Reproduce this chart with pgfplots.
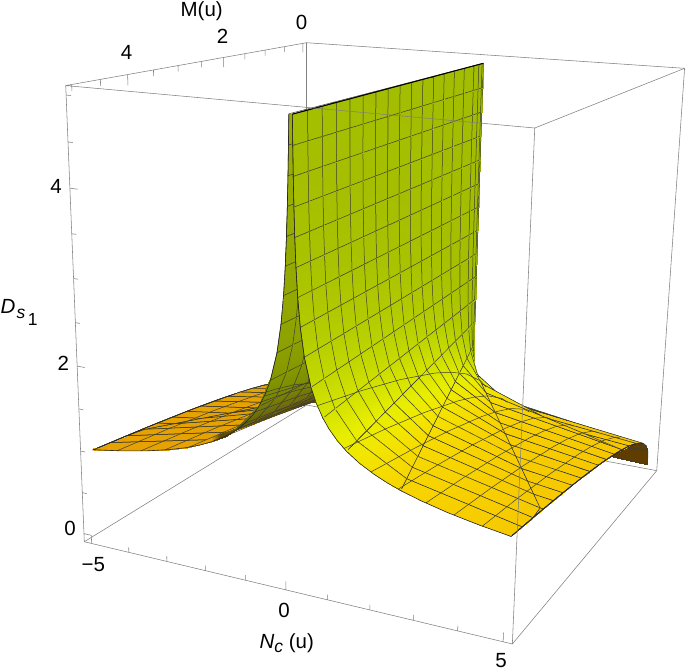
\documentclass[border=0pt]{standalone}
\usepackage{fontspec}
\setmainfont{Liberation Sans}
\usepackage{pgfplots}
\usepackage{pgfplotstable}
\pgfplotsset{compat=1.18}
\definecolor{meshc}{RGB}{62,62,50}
\pgfplotsset{
  /pgf/declare function={
    wq(\a,\b,\c)=1-0.0864*\a-0.2114*\b-0.06*\c;
    xq(\a,\b,\c)=(306.7+293.3*\a-240.22*\b-18.6*\c)/wq(\a,\b,\c)+3.5*\a*\c;
    yq(\a,\b,\c)=670-((405+25*\a+22.2*\b-364.86*\c)/wq(\a,\b,\c)-8*\a*\c);
    aN(\n)=(\n+5.2)/10.4;
    bM(\m)=(\m+0.1)/5.2;
    cD(\d)=(\d+0.1)/5.2;
  },
  table/proj/.style={
    x expr={xq(aN(#1*\thisrow{N}),bM(\thisrow{M}),cD(\thisrow{D}))},
    y expr={yq(aN(#1*\thisrow{N}),bM(\thisrow{M}),cD(\thisrow{D}))},
    z expr={-wq(aN(#1*\thisrow{N}),bM(\thisrow{M}),cD(\thisrow{D}))},
  },
  colormap={rightwing}{rgb255=(95,60,0) rgb255=(243,190,0) rgb255=(246,200,0) rgb255=(247,208,0) rgb255=(246,218,0) rgb255=(242,230,0) rgb255=(232,238,0) rgb255=(218,230,0) rgb255=(205,222,0) rgb255=(190,213,0) rgb255=(176,201,0) rgb255=(162,188,0)},
  colormap={leftwing}{rgb255=(230,162,0) rgb255=(92,72,0) rgb255=(98,83,5) rgb255=(104,94,10) rgb255=(110,105,15) rgb255=(116,118,10) rgb255=(121,131,5) rgb255=(127,144,0) rgb255=(134,152,0) rgb255=(140,160,0) rgb255=(147,168,0) rgb255=(154,176,0)},
  rmeta/.style={point meta={ifthenelse(\thisrow{M}<0.3,ifthenelse(\thisrow{D}<0.9,-0.1,1),(\thisrow{D}/(3*(\thisrow{N}+0.01)))/(\thisrow{D}/(3*(\thisrow{N}+0.01))+0.5))}},
  lmeta/.style={point meta={ifthenelse(1.2-1.07*\thisrow{D}/(\thisrow{N}+0.01)-\thisrow{D}/(\thisrow{M}+0.01)>0,-0.1,(-(1.2-1.07*\thisrow{D}/(\thisrow{N}+0.01)-\thisrow{D}/(\thisrow{M}+0.01)))/(-(1.2-1.07*\thisrow{D}/(\thisrow{N}+0.01)-\thisrow{D}/(\thisrow{M}+0.01))+2))}},
}
\pgfplotstableread{
N M D
0.4777 5 2.2075
0.4777 5 2.1875
0.6 5 2.071
0.6 5 2.027
0.7585 5 1.895
0.7585 5 1.875
0.9 5 1.815
0.9 5 1.771
1.1 5 1.702
1.1 5 1.657
1.3105 5 1.5825
1.3105 5 1.5625
1.6 5 1.51
1.6 5 1.462
1.95 5 1.422
1.95 5 1.369
2.25 5 1.348
2.25 5 1.305
2.56 5 1.27
2.56 5 1.25
3 5 1.225
3 5 1.186
3.6 5 1.163
3.6 5 1.116
4.3 5 1.092
4.3 5 1.052
5 5 1.02
5 5 1
}\sliver
\pgfplotstableread{
N M D
0 0 5
0.0003 0.04 5
0.0012 0.15 5
0.0025 0.3125 5
0.005 0.625 5
0.0075 0.9375 5
0.01 1.25 5
0.0125 1.5625 5
0.015 1.875 5
0.0175 2.1875 5
0.02 2.5 5
0.0225 2.8125 5
0.025 3.125 5
0.0275 3.4375 5
0.03 3.75 5
0.0325 4.0625 5
0.035 4.375 5
0.0375 4.6875 5
0.04 5 5
0 0 4.6875
0.0004 0.04 4.6875
0.0015 0.15 4.6875
0.003 0.3125 4.6875
0.0061 0.625 4.6875
0.0091 0.9375 4.6875
0.0121 1.25 4.6875
0.0152 1.5625 4.6875
0.0182 1.875 4.6875
0.0212 2.1875 4.6875
0.0243 2.5 4.6875
0.0273 2.8125 4.6875
0.0303 3.125 4.6875
0.0334 3.4375 4.6875
0.0364 3.75 4.6875
0.0394 4.0625 4.6875
0.0425 4.375 4.6875
0.0455 4.6875 4.6875
0.0486 5 4.6875
0 0 4.375
0.0005 0.04 4.375
0.0018 0.15 4.375
0.0037 0.3125 4.375
0.0075 0.625 4.375
0.0112 0.9375 4.375
0.0149 1.25 4.375
0.0187 1.5625 4.375
0.0224 1.875 4.375
0.0261 2.1875 4.375
0.0299 2.5 4.375
0.0336 2.8125 4.375
0.0373 3.125 4.375
0.041 3.4375 4.375
0.0448 3.75 4.375
0.0485 4.0625 4.375
0.0522 4.375 4.375
0.056 4.6875 4.375
0.0597 5 4.375
0 0 4.0625
0.0006 0.04 4.0625
0.0022 0.15 4.0625
0.0047 0.3125 4.0625
0.0093 0.625 4.0625
0.014 0.9375 4.0625
0.0186 1.25 4.0625
0.0233 1.5625 4.0625
0.028 1.875 4.0625
0.0326 2.1875 4.0625
0.0373 2.5 4.0625
0.0419 2.8125 4.0625
0.0466 3.125 4.0625
0.0513 3.4375 4.0625
0.0559 3.75 4.0625
0.0606 4.0625 4.0625
0.0652 4.375 4.0625
0.0699 4.6875 4.0625
0.0746 5 4.0625
0 0 3.75
0.0008 0.04 3.75
0.0028 0.15 3.75
0.0059 0.3125 3.75
0.0119 0.625 3.75
0.0178 0.9375 3.75
0.0237 1.25 3.75
0.0296 1.5625 3.75
0.0356 1.875 3.75
0.0415 2.1875 3.75
0.0474 2.5 3.75
0.0533 2.8125 3.75
0.0593 3.125 3.75
0.0652 3.4375 3.75
0.0711 3.75 3.75
0.077 4.0625 3.75
0.083 4.375 3.75
0.0889 4.6875 3.75
0.0948 5 3.75
0 0 3.4375
0.001 0.04 3.4375
0.0037 0.15 3.4375
0.0077 0.3125 3.4375
0.0154 0.625 3.4375
0.0231 0.9375 3.4375
0.0308 1.25 3.4375
0.0385 1.5625 3.4375
0.0462 1.875 3.4375
0.0539 2.1875 3.4375
0.0616 2.5 3.4375
0.0692 2.8125 3.4375
0.0769 3.125 3.4375
0.0846 3.4375 3.4375
0.0923 3.75 3.4375
0.1 4.0625 3.4375
0.1077 4.375 3.4375
0.1154 4.6875 3.4375
0.1231 5 3.4375
0 0 3.125
0.0013 0.04 3.125
0.0049 0.15 3.125
0.0102 0.3125 3.125
0.0205 0.625 3.125
0.0307 0.9375 3.125
0.041 1.25 3.125
0.0512 1.5625 3.125
0.0614 1.875 3.125
0.0717 2.1875 3.125
0.0819 2.5 3.125
0.0922 2.8125 3.125
0.1024 3.125 3.125
0.1126 3.4375 3.125
0.1229 3.75 3.125
0.1331 4.0625 3.125
0.1434 4.375 3.125
0.1536 4.6875 3.125
0.1639 5 3.125
0 0 2.8125
0.0018 0.04 2.8125
0.0067 0.15 2.8125
0.014 0.3125 2.8125
0.0281 0.625 2.8125
0.0421 0.9375 2.8125
0.0562 1.25 2.8125
0.0702 1.5625 2.8125
0.0843 1.875 2.8125
0.0983 2.1875 2.8125
0.1124 2.5 2.8125
0.1264 2.8125 2.8125
0.1405 3.125 2.8125
0.1545 3.4375 2.8125
0.1686 3.75 2.8125
0.1826 4.0625 2.8125
0.1967 4.375 2.8125
0.2107 4.6875 2.8125
0.2248 5 2.8125
0 0 2.5
0.0026 0.04 2.5
0.0096 0.15 2.5
0.02 0.3125 2.5
0.04 0.625 2.5
0.06 0.9375 2.5
0.08 1.25 2.5
0.1 1.5625 2.5
0.12 1.875 2.5
0.14 2.1875 2.5
0.16 2.5 2.5
0.18 2.8125 2.5
0.2 3.125 2.5
0.22 3.4375 2.5
0.24 3.75 2.5
0.26 4.0625 2.5
0.28 4.375 2.5
0.3 4.6875 2.5
0.32 5 2.5
0 0 2.1875
0.0038 0.04 2.1875
0.0143 0.15 2.1875
0.0299 0.3125 2.1875
0.0597 0.625 2.1875
0.0896 0.9375 2.1875
0.1194 1.25 2.1875
0.1493 1.5625 2.1875
0.1791 1.875 2.1875
0.209 2.1875 2.1875
0.2389 2.5 2.1875
0.2687 2.8125 2.1875
0.2986 3.125 2.1875
0.3284 3.4375 2.1875
0.3583 3.75 2.1875
0.3881 4.0625 2.1875
0.418 4.375 2.1875
0.4478 4.6875 2.1875
0.4777 5 2.1875
0 0 1.875
0.0061 0.04 1.875
0.0228 0.15 1.875
0.0474 0.3125 1.875
0.0948 0.625 1.875
0.1422 0.9375 1.875
0.1896 1.25 1.875
0.237 1.5625 1.875
0.2844 1.875 1.875
0.3318 2.1875 1.875
0.3793 2.5 1.875
0.4267 2.8125 1.875
0.4741 3.125 1.875
0.5215 3.4375 1.875
0.5689 3.75 1.875
0.6163 4.0625 1.875
0.6637 4.375 1.875
0.7111 4.6875 1.875
0.7585 5 1.875
0 0 1.5625
0.0105 0.04 1.5625
0.0393 0.15 1.5625
0.0819 0.3125 1.5625
0.1638 0.625 1.5625
0.2457 0.9375 1.5625
0.3276 1.25 1.5625
0.4095 1.5625 1.5625
0.4914 1.875 1.5625
0.5733 2.1875 1.5625
0.6553 2.5 1.5625
0.7372 2.8125 1.5625
0.8191 3.125 1.5625
0.901 3.4375 1.5625
0.9829 3.75 1.5625
1.0648 4.0625 1.5625
1.1467 4.375 1.5625
1.2286 4.6875 1.5625
1.3105 5 1.5625
0 0 1.25
0.0205 0.04 1.25
0.0768 0.15 1.25
0.16 0.3125 1.25
0.32 0.625 1.25
0.48 0.9375 1.25
0.64 1.25 1.25
0.8 1.5625 1.25
0.96 1.875 1.25
1.12 2.1875 1.25
1.28 2.5 1.25
1.44 2.8125 1.25
1.6 3.125 1.25
1.76 3.4375 1.25
1.92 3.75 1.25
2.08 4.0625 1.25
2.24 4.375 1.25
2.4 4.6875 1.25
2.56 5 1.25
0 0 0.9375
0.0485 0.04 0.9375
0.182 0.15 0.9375
0.3793 0.3125 0.9375
0.7585 0.625 0.9375
1.1378 0.9375 0.9375
1.517 1.25 0.9375
1.8963 1.5625 0.9375
2.2755 1.875 0.9375
2.6548 2.1875 0.9375
3.034 2.5 0.9375
3.4133 2.8125 0.9375
3.7925 3.125 0.9375
4.1718 3.4375 0.9375
4.551 3.75 0.9375
4.9303 4.0625 0.9375
5 4.375 0.9565
5 4.6875 0.9787
5 5 1
0 0 0.625
0.1638 0.04 0.625
0.6144 0.15 0.625
1.28 0.3125 0.625
2.56 0.625 0.625
3.84 0.9375 0.625
5 1.25 0.63
5 1.5625 0.6786
5 1.875 0.7211
5 2.1875 0.7591
5 2.5 0.7937
5 2.8125 0.8255
5 3.125 0.855
5 3.4375 0.8826
5 3.75 0.9086
5 4.0625 0.9331
5 4.375 0.9565
5 4.6875 0.9787
5 5 1
0 0 0.3125
1.311 0.04 0.3125
4.915 0.15 0.3125
5 0.3125 0.3969
5 0.625 0.5
5 0.9375 0.5724
5 1.25 0.63
5 1.5625 0.6786
5 1.875 0.7211
5 2.1875 0.7591
5 2.5 0.7937
5 2.8125 0.8255
5 3.125 0.855
5 3.4375 0.8826
5 3.75 0.9086
5 4.0625 0.9331
5 4.375 0.9565
5 4.6875 0.9787
5 5 1
0 0 0.2
5 0.04 0.2
5 0.15 0.3107
5 0.3125 0.3969
5 0.625 0.5
5 0.9375 0.5724
5 1.25 0.63
5 1.5625 0.6786
5 1.875 0.7211
5 2.1875 0.7591
5 2.5 0.7937
5 2.8125 0.8255
5 3.125 0.855
5 3.4375 0.8826
5 3.75 0.9086
5 4.0625 0.9331
5 4.375 0.9565
5 4.6875 0.9787
5 5 1
0 0 0.1
5 0.04 0.2
5 0.15 0.3107
5 0.3125 0.3969
5 0.625 0.5
5 0.9375 0.5724
5 1.25 0.63
5 1.5625 0.6786
5 1.875 0.7211
5 2.1875 0.7591
5 2.5 0.7937
5 2.8125 0.8255
5 3.125 0.855
5 3.4375 0.8826
5 3.75 0.9086
5 4.0625 0.9331
5 4.375 0.9565
5 4.6875 0.9787
5 5 1
5 0 0
5 0.04 0.2
5 0.15 0.3107
5 0.3125 0.3969
5 0.625 0.5
5 0.9375 0.5724
5 1.25 0.63
5 1.5625 0.6786
5 1.875 0.7211
5 2.1875 0.7591
5 2.5 0.7937
5 2.8125 0.8255
5 3.125 0.855
5 3.4375 0.8826
5 3.75 0.9086
5 4.0625 0.9331
5 4.375 0.9565
5 4.6875 0.9787
5 5 1
}\surfdata
\begin{document}
\begin{tikzpicture}
\path[use as bounding box] (0,0) rectangle (685pt,670pt);
\begin{axis}[
  width=685pt,height=670pt,scale only axis,hide axis,view={0}{90},
  xmin=0,xmax=685,ymin=0,ymax=670,clip=false,
  point meta min=-0.1,point meta max=1,
]
% back edges of the box
\addplot3[no marks,empty line=jump,color=black!50,line width=0.55pt] table[proj=1] {
N M D
-5.2 -0.1 -0.1
-5.2 5.1 -0.1

-5.2 -0.1 -0.1
5.2 -0.1 -0.1

-5.2 -0.1 -0.1
-5.2 -0.1 5.1

5.2 -0.1 -0.1
5.2 -0.1 5.1

-5.2 -0.1 5.1
5.2 -0.1 5.1
};
% left wing
\addplot3[surf,shader=faceted interp,z buffer=sort,colormap name=leftwing,mesh/rows=19,mesh/cols=19,faceted color=meshc,line width=0.5pt,lmeta]
  table[proj=-1] {\surfdata};
\addplot3[surf,shader=interp,colormap name=leftwing,mesh/rows=14,mesh/cols=2,lmeta]
  table[proj=-1] {\sliver};
\addplot3[no marks,empty line=jump,color=meshc,line width=0.5pt] table[proj=-1] {
N M D
0.625 0.3 0.783
0.625 0.5 0.928
0.625 1 1.17
0.625 1.5 1.339
0.625 2 1.474
0.625 3 1.687
0.625 4 1.857
0.625 5 2

1.25 0.3 0.621
1.25 0.5 0.737
1.25 1 0.928
1.25 1.5 1.063
1.25 2 1.17
1.25 3 1.339
1.25 4 1.474
1.25 5 1.587

1.875 0.3 0.543
1.875 0.5 0.644
1.875 1 0.811
1.875 1.5 0.928
1.875 2 1.022
1.875 3 1.17
1.875 4 1.287
1.875 5 1.387

2.5 0.3 0.493
2.5 0.5 0.585
2.5 1 0.737
2.5 1.5 0.843
2.5 2 0.928
2.5 3 1.063
2.5 4 1.17
2.5 5 1.26

3.125 0.3 0.458
3.125 0.5 0.543
3.125 1 0.684
3.125 1.5 0.783
3.125 2 0.862
3.125 3 0.986
3.125 4 1.086
3.125 5 1.17

3.75 0.3 0.431
3.75 0.5 0.511
3.75 1 0.644
3.75 1.5 0.737
3.75 2 0.811
3.75 3 0.928
3.75 4 1.022
3.75 5 1.101

4.375 0.3 0.409
4.375 0.5 0.485
4.375 1 0.611
4.375 1.5 0.7
4.375 2 0.77
4.375 3 0.882
4.375 4 0.971
4.375 5 1.045
};
\addplot3[no marks,color=black!85,line width=0.6pt] table[proj=-1] {
N M D
0.04 5 5
0.0486 5 4.6875
0.0597 5 4.375
0.0746 5 4.0625
0.0948 5 3.75
0.1231 5 3.4375
0.1639 5 3.125
0.2248 5 2.8125
0.32 5 2.5
0.4777 5 2.1875
0.6 5 2.027
0.7585 5 1.875
0.9 5 1.771
1.1 5 1.657
1.3105 5 1.5625
1.6 5 1.462
1.95 5 1.369
2.25 5 1.305
2.56 5 1.25
3 5 1.186
3.6 5 1.116
4.3 5 1.052
5 5 1
5 4 0.928
5 3 0.843
5 2 0.737
};
% right wing
\addplot3[surf,shader=faceted interp,z buffer=sort,colormap name=rightwing,mesh/rows=19,mesh/cols=19,faceted color=meshc,line width=0.5pt,rmeta]
  table[proj=1] {\surfdata};
\addplot3[surf,shader=interp,colormap name=rightwing,mesh/rows=14,mesh/cols=2,rmeta]
  table[proj=1] {\sliver};
% constant N mesh lines, right wing
\addplot3[no marks,empty line=jump,color=meshc,line width=0.5pt] table[proj=1] {
N M D
0.625 0.3 0.783
0.625 0.5 0.928
0.625 1 1.17
0.625 1.5 1.339
0.625 2 1.474
0.625 3 1.687
0.625 4 1.857
0.625 5 2

1.25 0.3 0.621
1.25 0.5 0.737
1.25 1 0.928
1.25 1.5 1.063
1.25 2 1.17
1.25 3 1.339
1.25 4 1.474
1.25 5 1.587

1.875 0.3 0.543
1.875 0.5 0.644
1.875 1 0.811
1.875 1.5 0.928
1.875 2 1.022
1.875 3 1.17
1.875 4 1.287
1.875 5 1.387

2.5 0.3 0.493
2.5 0.5 0.585
2.5 1 0.737
2.5 1.5 0.843
2.5 2 0.928
2.5 3 1.063
2.5 4 1.17
2.5 5 1.26

3.125 0.3 0.458
3.125 0.5 0.543
3.125 1 0.684
3.125 1.5 0.783
3.125 2 0.862
3.125 3 0.986
3.125 4 1.086
3.125 5 1.17

3.75 0.3 0.431
3.75 0.5 0.511
3.75 1 0.644
3.75 1.5 0.737
3.75 2 0.811
3.75 3 0.928
3.75 4 1.022
3.75 5 1.101

4.375 0.3 0.409
4.375 0.5 0.485
4.375 1 0.611
4.375 1.5 0.7
4.375 2 0.77
4.375 3 0.882
4.375 4 0.971
4.375 5 1.045
};
% boundary
\addplot3[no marks,color=black!85,line width=0.6pt] table[proj=1] {
N M D
0.04 5 5
0.0486 5 4.6875
0.0597 5 4.375
0.0746 5 4.0625
0.0948 5 3.75
0.1231 5 3.4375
0.1639 5 3.125
0.2248 5 2.8125
0.32 5 2.5
0.4777 5 2.1875
0.6 5 2.027
0.7585 5 1.875
0.9 5 1.771
1.1 5 1.657
1.3105 5 1.5625
1.6 5 1.462
1.95 5 1.369
2.25 5 1.305
2.56 5 1.25
3 5 1.186
3.6 5 1.116
4.3 5 1.052
5 5 1
5 4 0.928
5 3 0.843
5 2 0.737
5 1 0.585
5 0.5 0.464
5 0.3 0.391
};
\addplot3[no marks,color=black,line width=1pt] table[proj=1] {
N M D
0 0 5
0.04 5 5
};
% front edges and ticks
\addplot3[no marks,empty line=jump,color=black!50,line width=0.55pt] table[proj=1] {
N M D
-5.2 5.1 -0.1
5.2 5.1 -0.1

-5.2 5.1 -0.1
-5.2 5.1 5.1

5.2 5.1 -0.1
5.2 5.1 5.1

-5.2 5.1 5.1
5.2 5.1 5.1

-5.2 -0.1 5.1
-5.2 5.1 5.1

5.2 -0.1 5.1
5.2 5.1 5.1

5.2 -0.1 -0.1
5.2 5.1 -0.1

-5 5.1 -0.1
-5 5.1 0

-4 5.1 -0.1
-4 5.1 -0.04

-3 5.1 -0.1
-3 5.1 -0.04

-2 5.1 -0.1
-2 5.1 -0.04

-1 5.1 -0.1
-1 5.1 -0.04

0 5.1 -0.1
0 5.1 0

1 5.1 -0.1
1 5.1 -0.04

2 5.1 -0.1
2 5.1 -0.04

3 5.1 -0.1
3 5.1 -0.04

4 5.1 -0.1
4 5.1 -0.04

5 5.1 -0.1
5 5.1 0

-5.2 5.1 0
-5 5.1 0

-5.2 5.1 0.5
-5.08 5.1 0.5

-5.2 5.1 1
-5.08 5.1 1

-5.2 5.1 1.5
-5.08 5.1 1.5

-5.2 5.1 2
-5 5.1 2

-5.2 5.1 2.5
-5.08 5.1 2.5

-5.2 5.1 3
-5.08 5.1 3

-5.2 5.1 3.5
-5.08 5.1 3.5

-5.2 5.1 4
-5 5.1 4

-5.2 5.1 4.5
-5.08 5.1 4.5

-5.2 5.1 5
-5.08 5.1 5

-5.2 0 5.1
-5.2 0 4.98

-5.2 0.5 5.1
-5.2 0.5 5.03

-5.2 1 5.1
-5.2 1 5.03

-5.2 1.5 5.1
-5.2 1.5 5.03

-5.2 2 5.1
-5.2 2 4.98

-5.2 2.5 5.1
-5.2 2.5 5.03

-5.2 3 5.1
-5.2 3 5.03

-5.2 3.5 5.1
-5.2 3.5 5.03

-5.2 4 5.1
-5.2 4 4.98

-5.2 4.5 5.1
-5.2 4.5 5.03

-5.2 5 5.1
-5.2 5 5.03
};
\def\ff{\fontsize{20.5}{22}\selectfont}
\def\fs{\fontsize{17.5}{18}\selectfont}
\node[font=\ff,inner sep=0pt] at (axis cs:201.7,658.5,-0.8) {M(u)};
\node[font=\ff] at (axis cs:126.7,617.3,-0.8) {4};
\node[font=\ff] at (axis cs:222.7,634,-0.8) {2};
\node[font=\ff] at (axis cs:301.7,647.3,-0.8) {0};
\node[font=\ff] at (axis cs:56,484,-0.8) {4};
\node[font=\ff] at (axis cs:63.3,306.7,-0.8) {2};
\node[font=\ff] at (axis cs:70,141.7,-0.8) {0};
\node[font=\ff] at (axis cs:93.3,105,-0.8) {\textminus 5};
\node[font=\ff] at (axis cs:284,60,-0.8) {0};
\node[font=\ff,inner sep=0pt] at (axis cs:501,9.5,-0.8) {5};
\node[font=\ff] at (axis cs:286.7,27,-0.8) {\textit{N}\raisebox{-4pt}{\fs\textit{c}} (u)};
\node[font=\ff,anchor=base west,inner sep=0pt] at (axis cs:0.5,357,-0.8) {\textit{D}\hspace{1pt}\raisebox{-5pt}{\fs\textit{s}}\hspace{2.5pt}\raisebox{-12pt}{\fs 1}};
\end{axis}
\end{tikzpicture}
\end{document}
